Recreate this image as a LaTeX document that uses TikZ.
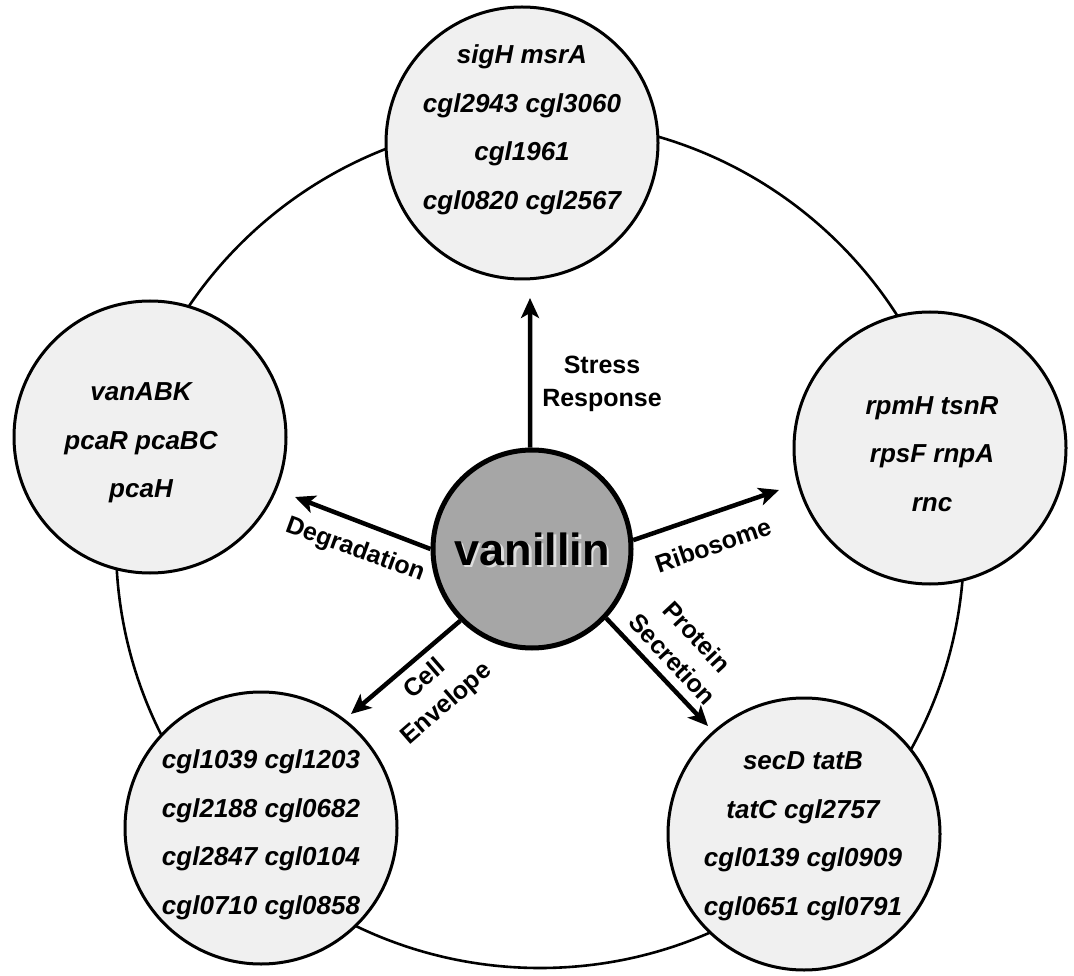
\documentclass[tikz,border=0pt]{standalone}
\usepackage{fontspec}
\setmainfont{Liberation Sans}
\usetikzlibrary{arrows.meta}
\definecolor{cfill}{HTML}{F0F0F0}
\definecolor{vfill}{HTML}{A6A6A6}
\tikzset{
  bigring/.style={circle, draw, line width=2.6pt, minimum size=848pt, inner sep=0pt},
  smallc/.style={circle, draw, line width=3pt, fill=cfill, minimum size=272pt, inner sep=0pt},
  vanc/.style={circle, draw, line width=5pt, fill=vfill, minimum size=198pt, inner sep=0pt},
  genes/.style={font=\fontsize{26}{48.5}\selectfont\bfseries\itshape, align=center, inner sep=0pt},
  lbl/.style={font=\fontsize{25}{33}\selectfont\bfseries, align=center, inner sep=0pt},
  vfont/.style={font=\fontsize{45}{45}\selectfont\bfseries, inner sep=0pt},
  arr/.style={line width=4.5pt, -{Stealth[length=20pt,width=18pt,inset=5pt]}}
}
\begin{document}
\begin{tikzpicture}[x=1pt,y=-1pt]
\useasboundingbox (0,0) rectangle (1074,976);
% outer ring
\node[bigring] (ring) at (540,544) {};
% satellite circles
\node[smallc] (cS) at (522,143) {};
\node[smallc] (cD) at (150,437) {};
\node[smallc] (cR) at (930,448) {};
\node[smallc] (cE) at (261,828) {};
\node[smallc] (cP) at (804,834) {};
% gene lists
\node[genes] (gS) at (522,130) {sigH msrA\\cgl2943 cgl3060\\cgl1961\\cgl0820 cgl2567};
\node[genes] (gD) at (141,443) {vanABK\\pcaR pcaBC\\pcaH};
\node[genes] (gR) at (932,454) {rpmH tsnR\\rpsF rnpA\\rnc};
\node[genes] (gE) at (261,835) {cgl1039 cgl1203\\cgl2188 cgl0682\\cgl2847 cgl0104\\cgl0710 cgl0858};
\node[genes] (gP) at (803,836) {secD tatB\\tatC cgl2757\\cgl0139 cgl0909\\cgl0651 cgl0791};
% centre
\node[vanc] (van) at (532,549) {};
\node[vfont, text=white!75!gray] (vsh) at (534.5,551.5) {vanillin};
\node[vfont] (vtx) at (532,549) {vanillin};
% arrow tips
\coordinate (tS) at (530,298);
\coordinate (tD) at (295,497);
\coordinate (tR) at (779,490);
\coordinate (tE) at (351,714);
\coordinate (tP) at (708,726);
\draw[arr] (van.91) -- (tS);
\draw[arr] (van.180) -- (tD);
\draw[arr] (van.5) -- (tR);
\draw[arr] (van.225) -- (tE);
\draw[arr] (van.317) -- (tP);
% arrow labels
\node[lbl] (lS) at (602,384) {Stress\\Response};
\node[lbl, rotate=-20] (lD) at (355,550) {Degradation};
\node[lbl, rotate=19] (lR) at (713,545) {Ribosome};
\node[lbl, rotate=41] (lE) at (436,692) {Cell\\Envelope};
\node[lbl, rotate=-47] (lP) at (685,648) {Protein\\Secretion};
\end{tikzpicture}
\end{document}
